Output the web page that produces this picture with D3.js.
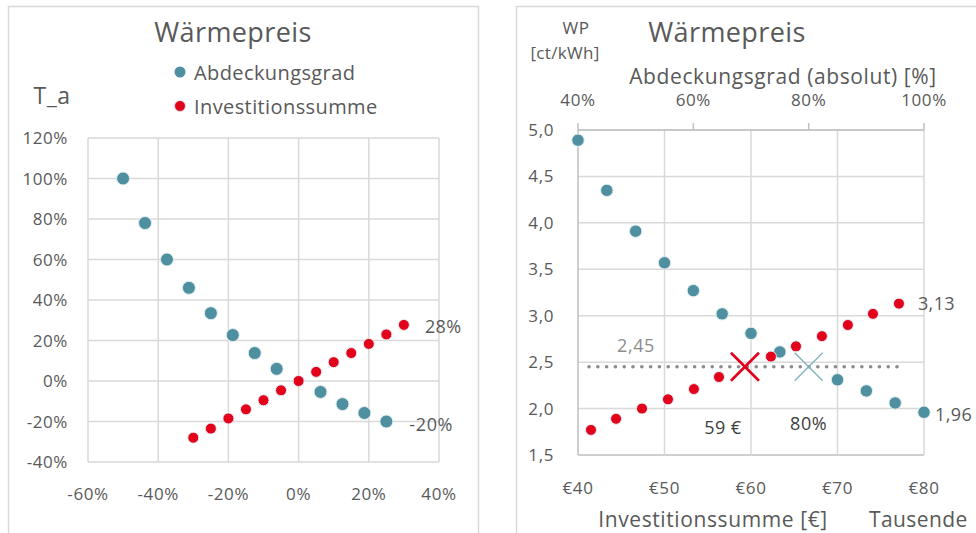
<!DOCTYPE html>
<html><head><meta charset="utf-8">
<script src="https://cdn.jsdelivr.net/npm/d3@7"></script>
<style>body{margin:0;background:#fff}svg{display:block}text{font-family:"Open Sans",sans-serif;fill:#595959}</style>
</head><body>
<svg id="c" width="976" height="533"></svg>
<script>
// ---- Left chart data (relative changes) ----
const leftXTicks = [-0.6,-0.4,-0.2,0,0.2,0.4];
const leftYTicks = [-0.4,-0.2,0,0.2,0.4,0.6,0.8,1.0,1.2];
const abdeckRelX = [-0.50,-0.4375,-0.375,-0.3125,-0.25,-0.1875,-0.125,-0.0625,0.0625,0.125,0.1875,0.25];
const abdeckRelY = [1.00,0.78,0.60,0.46,0.335,0.227,0.138,0.06,-0.054,-0.114,-0.158,-0.20];
const investRelX = [-0.30,-0.25,-0.20,-0.15,-0.10,-0.05,0,0.05,0.10,0.15,0.20,0.25,0.30];
const investRelY = [-0.28,-0.235,-0.185,-0.14,-0.095,-0.046,0,0.045,0.093,0.138,0.183,0.23,0.277];
// ---- Right chart data (absolute) ----
const rightYTicks = [1.5,2.0,2.5,3.0,3.5,4.0,4.5,5.0];
const investTicks = [40,50,60,70,80];
const abdeckTicks = [0.4,0.6,0.8,1.0];
const abdeckAbsX = [0.40,0.45,0.50,0.55,0.60,0.65,0.70,0.75,0.85,0.90,0.95,1.00];
const abdeckWP   = [4.89,4.35,3.91,3.57,3.27,3.02,2.81,2.61,2.31,2.19,2.06,1.96];
const investAbsX = [41.5,44.4,47.4,50.4,53.4,56.3,62.3,65.2,68.2,71.2,74.1,77.1];
const investWP   = [1.77,1.89,2.00,2.10,2.21,2.34,2.56,2.67,2.78,2.90,3.02,3.13];
const baseWP = 2.45, baseInvest = 59.3, baseAbdeck = 0.80;

const blue = "#4e8fa0", red = "#e2001a", grid = "#d9d9d9";
const svg = d3.select("#c");
const de = d3.formatLocale({decimal:",",thousands:".",grouping:[3],currency:["€",""]});
const pct = v => Math.round(v*100) + "%";

// panel borders
svg.append("rect").attr("x",8.5).attr("y",6.5).attr("width",470).attr("height",560).attr("fill","none").attr("stroke",grid).attr("stroke-width",1.5);
svg.append("rect").attr("x",516.5).attr("y",6.5).attr("width",480).attr("height",560).attr("fill","none").attr("stroke",grid).attr("stroke-width",1.5);

// ================= LEFT =================
const lx = d3.scaleLinear().domain([-0.6,0.4]).range([88,439]);
const ly = d3.scaleLinear().domain([-0.4,1.2]).range([462,138]);
const L = svg.append("g");
L.append("g").selectAll("line").data(leftXTicks).join("line")
  .attr("x1",d=>lx(d)).attr("x2",d=>lx(d)).attr("y1",ly(1.2)).attr("y2",ly(-0.4))
  .attr("stroke",grid).attr("stroke-width",1.5);
L.append("g").selectAll("line").data(leftYTicks).join("line")
  .attr("x1",lx(-0.6)).attr("x2",lx(0.4)).attr("y1",d=>ly(d)).attr("y2",d=>ly(d))
  .attr("stroke",grid).attr("stroke-width",1.5);
L.append("g").selectAll("text").data(leftYTicks).join("text")
  .attr("x",68).attr("y",d=>ly(d)+6).attr("text-anchor","end").attr("font-size",17).attr("letter-spacing",0.6).text(pct);
L.append("g").selectAll("text").data(leftXTicks).join("text")
  .attr("x",d=>lx(d)).attr("y",500).attr("text-anchor","middle").attr("font-size",17).attr("letter-spacing",0.6).text(pct);
L.append("g").selectAll("circle").data(d3.zip(abdeckRelX,abdeckRelY)).join("circle")
  .attr("cx",d=>lx(d[0])).attr("cy",d=>ly(d[1])).attr("r",6.5).attr("fill",blue).attr("stroke","#e4eef2").attr("stroke-width",1);
L.append("g").selectAll("circle").data(d3.zip(investRelX,investRelY)).join("circle")
  .attr("cx",d=>lx(d[0])).attr("cy",d=>ly(d[1])).attr("r",5.5).attr("fill",red).attr("stroke","#e4eef2").attr("stroke-width",1);
const lastInv = investRelY[investRelY.length-1], lastAb = abdeckRelY[abdeckRelY.length-1];
L.append("text").attr("x",lx(investRelX[investRelX.length-1])+21).attr("y",ly(lastInv)+8).attr("font-size",18).attr("letter-spacing",0.4).text(pct(lastInv));
L.append("text").attr("x",lx(abdeckRelX[abdeckRelX.length-1])+23).attr("y",ly(lastAb)+9).attr("font-size",18).attr("letter-spacing",0.6).text(pct(lastAb));
L.append("text").attr("x",233).attr("y",42).attr("text-anchor","middle").attr("font-size",27).attr("letter-spacing",0.4).text("Wärmepreis");
L.append("text").attr("x",52).attr("y",104).attr("text-anchor","middle").attr("font-size",23).attr("letter-spacing",0.5).text("T_a");
L.append("circle").attr("cx",180).attr("cy",72).attr("r",5.5).attr("fill",blue);
L.append("text").attr("x",194).attr("y",80).attr("font-size",20).attr("letter-spacing",0.4).text("Abdeckungsgrad");
L.append("circle").attr("cx",180).attr("cy",106).attr("r",5.5).attr("fill",red).attr("stroke","#dde6ee").attr("stroke-width",1);
L.append("text").attr("x",194).attr("y",114).attr("font-size",20).attr("letter-spacing",0.4).text("Investitionssumme");

// ================= RIGHT =================
const xb = d3.scaleLinear().domain([40,80]).range([578,924]);
const xt = d3.scaleLinear().domain([0.4,1.0]).range([578,924]);
const ry = d3.scaleLinear().domain([1.5,5.0]).range([455,130]);
const R = svg.append("g");
R.append("g").selectAll("line").data(rightYTicks).join("line")
  .attr("x1",xb(40)).attr("x2",xb(80)).attr("y1",d=>ry(d)).attr("y2",d=>ry(d))
  .attr("stroke",d=>d===1.5?"#bfbfbf":grid).attr("stroke-width",1.5);
R.append("g").selectAll("line").data(investTicks).join("line")
  .attr("x1",d=>xb(d)).attr("x2",d=>xb(d)).attr("y1",ry(5.0)).attr("y2",ry(1.5))
  .attr("stroke",d=>d===40?"#bfbfbf":grid).attr("stroke-width",1.5);
// top axis line + ticks
R.append("line").attr("x1",xt(0.4)).attr("x2",xt(1.0)).attr("y1",ry(5.0)).attr("y2",ry(5.0)).attr("stroke","#bfbfbf").attr("stroke-width",1.5);
R.append("g").selectAll("line").data(abdeckTicks).join("line")
  .attr("x1",d=>xt(d)).attr("x2",d=>xt(d)).attr("y1",ry(5.0)).attr("y2",ry(5.0)-7)
  .attr("stroke","#bfbfbf").attr("stroke-width",1.5);
R.append("g").selectAll("text").data(rightYTicks).join("text")
  .attr("x",554).attr("y",d=>ry(d)+6).attr("text-anchor","end").attr("font-size",17).attr("letter-spacing",0.6).text(d=>de.format(".1f")(d));
R.append("g").selectAll("text").data(investTicks).join("text")
  .attr("x",d=>xb(d)).attr("y",494).attr("text-anchor","middle").attr("font-size",17).attr("letter-spacing",0.6).text(d=>"€"+d);
R.append("g").selectAll("text").data(abdeckTicks).join("text")
  .attr("x",d=>xt(d)).attr("y",106).attr("text-anchor","middle").attr("font-size",17).attr("letter-spacing",0.6).text(pct);
// dotted base line
R.append("line").attr("x1",xb(investAbsX[0])-2).attr("x2",xb(investAbsX[investAbsX.length-1])).attr("y1",ry(baseWP)).attr("y2",ry(baseWP))
  .attr("stroke","#8c8c8c").attr("stroke-width",3.6).attr("stroke-linecap","round").attr("stroke-dasharray","0.1 8.7");
R.append("g").selectAll("circle").data(d3.zip(abdeckAbsX,abdeckWP)).join("circle")
  .attr("cx",d=>xt(d[0])).attr("cy",d=>ry(d[1])).attr("r",6.2).attr("fill",blue).attr("stroke","#e4eef2").attr("stroke-width",1);
R.append("g").selectAll("circle").data(d3.zip(investAbsX,investWP)).join("circle")
  .attr("cx",d=>xb(d[0])).attr("cy",d=>ry(d[1])).attr("r",5.5).attr("fill",red).attr("stroke","#e4eef2").attr("stroke-width",1);
// X markers
function cross(g,cx,cy,s,color,w){
  g.append("path").attr("d",`M${cx-s},${cy-s}L${cx+s},${cy+s}M${cx-s},${cy+s}L${cx+s},${cy-s}`)
   .attr("stroke",color).attr("stroke-width",w).attr("fill","none");
}
cross(R,xt(baseAbdeck),ry(baseWP),14,"#7fb3bf",1.3);
cross(R,xb(baseInvest),ry(baseWP),14,red,2.6);
// labels
R.append("text").attr("x",xb(investAbsX[0])+45).attr("y",ry(baseWP)-15).attr("text-anchor","middle").attr("font-size",18).attr("letter-spacing",0.6).style("fill","#8c8c8c").text(de.format(".2f")(baseWP));
R.append("text").attr("x",xb(baseInvest)-22).attr("y",ry(baseWP)+67).attr("text-anchor","middle").attr("font-size",18).attr("letter-spacing",0.4).style("fill","#404040").text(Math.round(baseInvest)+" €");
R.append("text").attr("x",xt(baseAbdeck)).attr("y",ry(baseWP)+63).attr("text-anchor","middle").attr("font-size",18).attr("letter-spacing",0.6).style("fill","#404040").text(pct(baseAbdeck));
R.append("text").attr("x",xb(investAbsX[investAbsX.length-1])+19).attr("y",ry(investWP[investWP.length-1])+6).attr("font-size",18).attr("letter-spacing",0.4).text(de.format(".2f")(investWP[investWP.length-1]));
R.append("text").attr("x",xt(abdeckAbsX[abdeckAbsX.length-1])+11).attr("y",ry(abdeckWP[abdeckWP.length-1])+9).attr("font-size",18).attr("letter-spacing",0.4).text(de.format(".2f")(abdeckWP[abdeckWP.length-1]));
R.append("text").attr("x",727).attr("y",42).attr("text-anchor","middle").attr("font-size",27).attr("letter-spacing",0.4).text("Wärmepreis");
R.append("text").attr("x",576).attr("y",34).attr("text-anchor","middle").attr("font-size",17).attr("letter-spacing",0.5).text("WP");
R.append("text").attr("x",565).attr("y",59).attr("text-anchor","middle").attr("font-size",17).attr("letter-spacing",0.3).text("[ct/kWh]");
R.append("text").attr("x",783).attr("y",84).attr("text-anchor","middle").attr("font-size",21).attr("letter-spacing",0.6).text("Abdeckungsgrad (absolut) [%]");
R.append("text").attr("x",713).attr("y",527).attr("text-anchor","middle").attr("font-size",21).attr("letter-spacing",0.6).text("Investitionssumme [€]");
R.append("text").attr("x",869).attr("y",527).attr("font-size",21).attr("letter-spacing",0.4).text("Tausende");
</script>
</body></html>
